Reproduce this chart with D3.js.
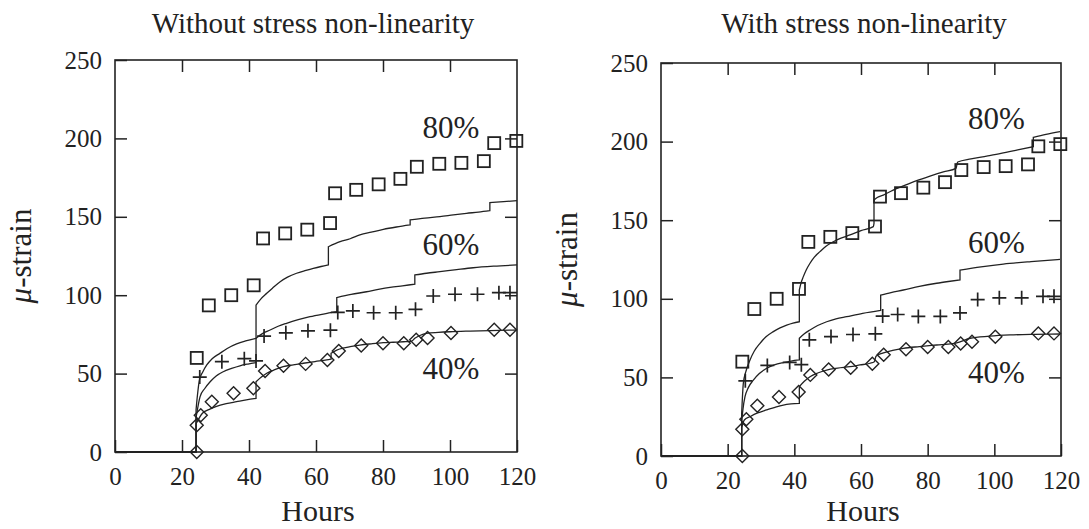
<!DOCTYPE html>
<html>
<head>
<meta charset="utf-8">
<script src="https://cdn.jsdelivr.net/npm/d3@7"></script>
<style>
  body { margin: 0; background: #fff; }
  svg text { font-family: "Liberation Serif", "Times New Roman", serif; fill: #222; }
</style>
</head>
<body>
<svg id="chart" width="1089" height="529"></svg>
<script>
// measured creep data (same specimens in both panels)
const sqHours = [24.4, 28.0, 34.7, 41.4, 44.2, 50.8, 57.4, 64.2, 65.7, 72.0, 78.7, 85.2, 90.1, 96.8, 103.4, 110.1, 113.2, 119.8];
const sqStrain = [60, 93.5, 100, 106.3, 136.2, 139.4, 141.8, 146, 165, 167.2, 170.7, 174.2, 181.9, 183.8, 184.4, 185.5, 197, 198.4];

const plusHours = [25.3, 31.9, 38.6, 42.1, 44.5, 51.0, 57.6, 64.3, 66.5, 71.0, 77.2, 83.8, 89.7, 95.0, 101.5, 108.2, 114.6, 117.9];
const plusStrain = [47.8, 57.6, 59.5, 58.1, 73.9, 76, 77.3, 77.7, 89, 90, 88.8, 88.8, 91, 99.5, 100.6, 100.6, 101.6, 101.6];

const diaHours = [24.4, 24.4, 25.6, 28.9, 35.4, 41.3, 44.8, 50.3, 56.9, 63.4, 66.8, 73.5, 80.0, 86.2, 89.9, 93.3, 100.3, 113.2, 117.9];
const diaStrain = [0, 17, 23.4, 32, 37.5, 40.7, 51.6, 55, 56.2, 58.7, 64.4, 67.9, 69.4, 69.4, 71.6, 72.7, 75.9, 78, 78];

// model curves, without stress non-linearity  [hours, strain]
const modelPlain80 = [[0,0],[24.2,0],[24.2,27],[24.6,36],[25.2,45.9],[26.2,51],[27.4,55.5],[29,59.5],[31.3,62.9],[33.5,66],[36.3,68.9],[39,70.8],[42.1,72.5],[42.1,93.7],[43.5,97.5],[45.3,101.2],[47,104.5],[49.3,108.6],[51.5,111.5],[54.2,114],[57,115.8],[59.2,117.1],[61.5,118.3],[63.7,119.3],[63.7,130.9],[67.2,134.1],[70.2,136],[73.1,138.4],[76.5,140.2],[80.1,142],[84,143.5],[88.1,144.8],[88.1,148],[92.5,149.2],[97,150.1],[101,151.2],[104.9,152.2],[108.5,153],[111.9,153.9],[111.9,159],[116,159.7],[120,160.3]];
const modelPlain60 = [[0,0],[24.2,0],[24.2,22],[25.4,35.3],[26.8,40.5],[28.4,44.8],[30.2,48.5],[32.3,51.2],[34.8,53.3],[37.3,55],[39.7,56.1],[42.1,57],[42.1,72.5],[44,75.5],[46.3,77.8],[48.7,80.2],[51.2,82.1],[54.7,84.4],[58.2,86.3],[62.2,88],[66.2,89.5],[66.2,98.5],[70.5,100.5],[75.1,102.2],[78.6,103.7],[82.1,105],[85.8,106],[89.5,107],[89.5,112.9],[93,114],[97,115],[102,116.3],[106.9,117.5],[113,118.5],[120,119.3]];
const modelPlain40 = [[0,0],[24.2,0],[24.2,18],[26.1,24.7],[28,27],[30.1,28.9],[33.2,30.8],[36.3,32.1],[39.2,33.3],[42.1,34.2],[42.1,44.8],[43.7,47.8],[45.3,50.2],[47.7,52.5],[50.2,54.4],[53.2,55.6],[56.2,56.6],[59.7,57.7],[63.2,58.7],[64.5,59.2],[64.5,63],[66.2,65],[68,66.2],[70.2,67.2],[73.1,68.2],[76.5,69],[80.1,69.7],[83,70],[86.1,70.3],[88.5,70.6],[89.5,72.5],[91,74.3],[93,75.7],[96.5,76.3],[100,76.7],[106,77.1],[111.9,77.4],[120,77.8]];

// model curves, with stress non-linearity
const modelNonlin80 = [[0,0],[24.2,0],[24.2,27],[24.7,46.2],[25.5,54],[26.7,61.1],[28,66.8],[29.7,71.7],[31.5,75.8],[33.7,79.1],[35.7,81.5],[37.7,83.3],[39.6,84.6],[41.5,85.4],[41.5,105.6],[42,110],[42.7,114.1],[43.6,118.5],[44.7,122.6],[46,126.5],[47.7,130],[49.5,133.4],[51.7,136.3],[54,138.6],[56.7,140.6],[60,143.4],[63.7,145.9],[63.9,148],[63.9,162.8],[65,164.6],[66.7,166],[69.5,169],[72.7,171.8],[76.5,175],[80.7,178.1],[84.7,180.8],[88.5,183],[89,187],[93,189],[97.7,190.8],[102,192.5],[107,194.7],[111.7,196.8],[111.7,202.7],[115.5,204.6],[119.7,206.3]];
const modelNonlin60 = [[0,0],[24.2,0],[24.2,22],[24.6,30],[25.2,37.7],[26.2,43.5],[27.7,48.3],[29.5,52.5],[31.7,55.8],[34,57.9],[36.7,59.4],[39,60.4],[41.5,61.1],[41.5,74.9],[43,77.8],[44.7,80.2],[47,83],[49.7,85.4],[52.5,87.2],[55.7,88.6],[60.5,90.7],[65.9,92.6],[65.9,102.4],[69,104],[72.7,105.6],[77.5,107.9],[82.7,109.9],[86.2,111],[89.7,112],[89.7,118.3],[96,120.3],[102.7,122.1],[111,123.7],[119.7,125.1]];
const modelNonlin40 = [[0,0],[24.2,0],[24.2,18],[25,22.9],[26.7,25],[29,27.4],[31.7,29.3],[34.2,31],[36.7,32.4],[39,33.1],[41.5,33.5],[41.5,44.1],[43,47.5],[44.7,50.4],[47,52.8],[49.7,54.7],[53,55.9],[56.7,56.8],[59.7,57.9],[62.7,59],[64,60],[64.5,63.5],[66.5,65.5],[69.5,67.2],[72.7,68.5],[77.5,69.6],[82.7,70.6],[87.5,71.5],[89.5,72.5],[92.7,74.9],[98.5,76.2],[104.7,77],[112,77.4],[119.7,77.6]];

const stressLabels = ["80%", "60%", "40%"];
const xTicks = [0, 20, 40, 60, 80, 100, 120];
const yTicks = [0, 50, 100, 150, 200, 250];

const panels = [
    {
        title: "Without stress non-linearity",
        left: 115, right: 517, top: 60, bottom: 452,
        titleX: 313,
        models: [modelPlain80, modelPlain60, modelPlain40],
        labelAt: [[91.8, 200], [91.8, 125.6], [91.8, 46.5]]
    },
    {
        title: "With stress non-linearity",
        left: 661, right: 1061, top: 63, bottom: 456,
        titleX: 864,
        models: [modelNonlin80, modelNonlin60, modelNonlin40],
        labelAt: [[92.1, 208.3], [92.1, 129], [92.1, 46.3]]
    }
];

const ink = "#222";
const svg = d3.select("#chart");

panels.forEach((p) => {

    const x = d3.scaleLinear().domain([0, 120]).range([p.left, p.right]),
        y = d3.scaleLinear().domain([0, 250]).range([p.bottom, p.top]),
        g = svg.append("g");

    // title
    g.append("text").
        attr("x", p.titleX).
        attr("y", 33).
        attr("text-anchor", "middle").
        style("font-size", "29px").
        text(p.title);

    // axes, ticks pointing inward on all sides
    const bottom = g.append("g").
        attr("transform", `translate(0,${p.bottom})`).
        call(d3.axisBottom(x).tickValues(xTicks).tickSizeInner(-12).tickSizeOuter(0).tickPadding(15));
    const leftAx = g.append("g").
        attr("transform", `translate(${p.left},0)`).
        call(d3.axisLeft(y).tickValues(yTicks).tickSizeInner(-12).tickSizeOuter(0).tickPadding(13));
    const topAx = g.append("g").
        attr("transform", `translate(0,${p.top})`).
        call(d3.axisTop(x).tickValues(xTicks.slice(1, -1)).tickSizeInner(-12).tickSizeOuter(0).tickFormat(""));
    const rightAx = g.append("g").
        attr("transform", `translate(${p.right},0)`).
        call(d3.axisRight(y).tickValues(yTicks.slice(1, -1)).tickSizeInner(-12).tickSizeOuter(0).tickFormat(""));

    [bottom, leftAx, topAx, rightAx].forEach((a) => {
        a.attr("font-family", null);
        a.select(".domain").remove();
        a.selectAll(".tick line").attr("stroke", ink).attr("stroke-width", 1.5);
        a.selectAll(".tick text").
            attr("fill", ink).
            style("font-family", "\"Liberation Serif\", serif").
            style("font-size", "25px");
    });

    g.append("rect").
        attr("x", p.left).
        attr("y", p.top).
        attr("width", p.right - p.left).
        attr("height", p.bottom - p.top).
        attr("fill", "none").
        attr("stroke", ink).
        attr("stroke-width", 1.6);

    // axis titles
    g.append("text").
        attr("x", (p.left + p.right) / 2 + 2).
        attr("y", 521).
        attr("text-anchor", "middle").
        style("font-size", "30px").
        text("Hours");

    const yl = g.append("text").
        attr("transform", `translate(${p.left - 84},${(p.top + p.bottom) / 2}) rotate(-90)`).
        attr("text-anchor", "middle").
        style("font-size", "31px");
    yl.append("tspan").style("font-style", "italic").text("\u03bc");
    yl.append("tspan").text("-strain");

    // model curves: smooth pieces joined by vertical load steps
    const line = d3.line().
        x((d) => x(d[0])).
        y((d) => y(d[1])).
        curve(d3.curveMonotoneX);

    const stepPath = (pts) => {
        const segs = [];
        let cur = [pts[0]];
        for (let i = 1; i < pts.length; i++) {
            if (pts[i][0] === pts[i - 1][0]) {
                segs.push(cur);
                cur = [pts[i]];
            } else {
                cur.push(pts[i]);
            }
        }
        segs.push(cur);
        return segs.map((s, i) => {
            const d = line(s);
            return i ? "L" + d.slice(1) : d;
        }).join("");
    };

    g.selectAll(".model").
        data(p.models).
        enter().
        append("path").
        attr("class", "model").
        attr("d", stepPath).
        attr("fill", "none").
        attr("stroke", ink).
        attr("stroke-width", 1.3);

    // measured points
    g.selectAll(".dia").
        data(d3.zip(diaHours, diaStrain)).
        enter().
        append("path").
        attr("class", "dia").
        attr("transform", (d) => `translate(${x(d[0])},${y(d[1])})`).
        attr("d", "M0,-6.5L6.5,0L0,6.5L-6.5,0Z").
        attr("fill", "none").
        attr("stroke", ink).
        attr("stroke-width", 1.4);

    g.selectAll(".plus").
        data(d3.zip(plusHours, plusStrain)).
        enter().
        append("path").
        attr("class", "plus").
        attr("transform", (d) => `translate(${x(d[0])},${y(d[1])})`).
        attr("d", "M-7,0H7M0,-7V7").
        attr("fill", "none").
        attr("stroke", ink).
        attr("stroke-width", 1.7);

    g.selectAll(".sq").
        data(d3.zip(sqHours, sqStrain)).
        enter().
        append("rect").
        attr("class", "sq").
        attr("x", (d) => x(d[0]) - 6).
        attr("y", (d) => y(d[1]) - 6).
        attr("width", 12).
        attr("height", 12).
        attr("fill", "none").
        attr("stroke", ink).
        attr("stroke-width", 1.8);

    // stress level labels
    g.selectAll(".lvl").
        data(stressLabels).
        enter().
        append("text").
        attr("class", "lvl").
        attr("x", (d, i) => x(p.labelAt[i][0])).
        attr("y", (d, i) => y(p.labelAt[i][1])).
        style("font-size", "31px").
        text((d) => d);

});
</script>
</body>
</html>
